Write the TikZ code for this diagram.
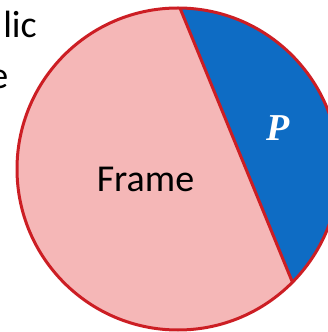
\documentclass[tikz,border=0pt]{standalone}
\usepackage{fontspec}
\usetikzlibrary{calc}
\setmainfont{Carlito}
\newfontfamily\pfont{Liberation Serif}
\definecolor{pinkfill}{RGB}{245,183,183}
\definecolor{redline}{RGB}{204,30,36}
\definecolor{bluefill}{RGB}{14,108,196}
\begin{document}
\begin{tikzpicture}[x=1pt,y=1pt,
  txt/.style={font=\fontsize{38}{44}\selectfont, inner sep=0pt, text=black},
  ptxt/.style={font=\pfont\bfseries\itshape\fontsize{38}{44}\selectfont, inner sep=0pt, text=white},
  edge/.style={draw=redline, line width=3pt}]
\useasboundingbox (0,0) rectangle (328,332);
\clip (0,0) rectangle (328,332);
\coordinate (c) at (178,163);
\coordinate (top) at ($(c)+(89.3:161)$);
\coordinate (bot) at ($(c)+(-44.7:161)$);
\fill[pinkfill] (c) circle[radius=161];
\fill[bluefill] (top) arc[start angle=89.3, end angle=-44.7, radius=161] -- cycle;
\draw[edge] (top) -- (bot);
\draw[edge] (c) circle[radius=161];
\node[txt, anchor=base] (frame) at (145.5,140) {Frame};
\node[ptxt, anchor=base] (p) at (278,191) {P};
\node[txt, anchor=base east] (lic) at (37,294) {lic};
\node[txt, anchor=base east] (e) at (8.5,243) {e};
\end{tikzpicture}
\end{document}
